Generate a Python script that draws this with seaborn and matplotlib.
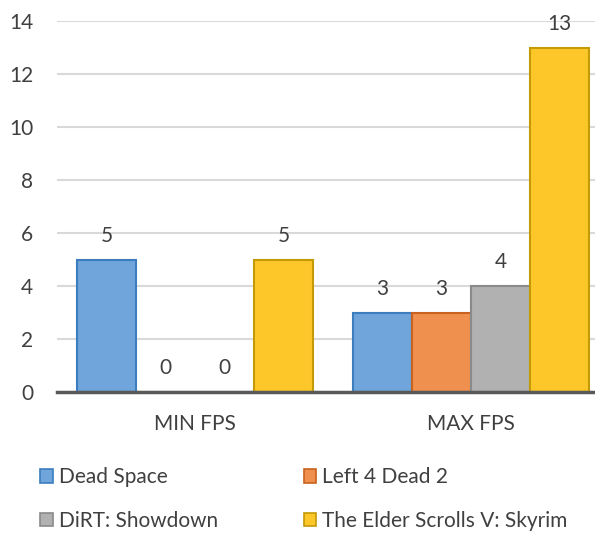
import pandas as pd
import seaborn as sns
import matplotlib.pyplot as plt
from matplotlib.patches import Patch

categories = ['MIN FPS', 'MAX FPS']
games = ['Dead Space', 'Left 4 Dead 2', 'DiRT: Showdown', 'The Elder Scrolls V: Skyrim']
dead_space = [5, 3]
left4dead2 = [0, 3]
dirt = [0, 4]
skyrim = [5, 13]

fills = ['#70A5DB', '#F0904F', '#B1B1B1', '#FDC72A']
edges = ['#3C7DC0', '#C8621E', '#8A8A8A', '#C49A06']

df = pd.DataFrame({
    'cat': categories * 4,
    'game': sum([[g] * 2 for g in games], []),
    'fps': dead_space + left4dead2 + dirt + skyrim,
})

sns.set_style('white')
plt.rcParams['font.family'] = ['Lato', 'DejaVu Sans']
text_col = '#404040'
fs = 15

fig = plt.figure(figsize=(5.95, 5.34), dpi=100)
ax = fig.add_axes([57 / 595, 142 / 534, 552 / 595, 371 / 534])

sns.barplot(data=df, x='cat', y='fps', hue='game', hue_order=games,
            palette=fills, saturation=1, width=0.855, ax=ax, legend=False, zorder=3)

for i, cont in enumerate(ax.containers):
    for bar in cont:
        bar.set_edgecolor(edges[i])
        bar.set_linewidth(1.5)
    ax.bar_label(cont, padding=10, fontsize=fs, color=text_col)

ax.set_xlim(-0.5, 1.5)
ax.set_ylim(0, 14)
ax.set_yticks(range(0, 15, 2))
ax.yaxis.grid(True, color='#D9D9D9', linewidth=1.5, zorder=0)
ax.set_axisbelow(True)
for s in ['top', 'right', 'left']:
    ax.spines[s].set_visible(False)
ax.spines['bottom'].set_color('#595959')
ax.spines['bottom'].set_linewidth(2.5)
ax.spines['bottom'].set_zorder(5)
ax.tick_params(axis='both', length=0, labelsize=fs, labelcolor=text_col)
ax.tick_params(axis='y', pad=17)
ax.tick_params(axis='x', pad=16)
ax.set_xlabel('')
ax.set_ylabel('')

handles = [Patch(facecolor=f, edgecolor=e, linewidth=1.2) for f, e in zip(fills, edges)]
order = [0, 2, 1, 3]
fig.legend([handles[i] for i in order], [games[i] for i in order],
           ncol=2, loc='upper left', bbox_to_anchor=(32 / 595, 1 - 459 / 534),
           frameon=False, fontsize=fs, labelcolor=text_col,
           handlelength=0.6, handleheight=0.6, handletextpad=0.3,
           columnspacing=4.1, labelspacing=1.12, borderaxespad=0)

fig.savefig('out.png', dpi=100)
